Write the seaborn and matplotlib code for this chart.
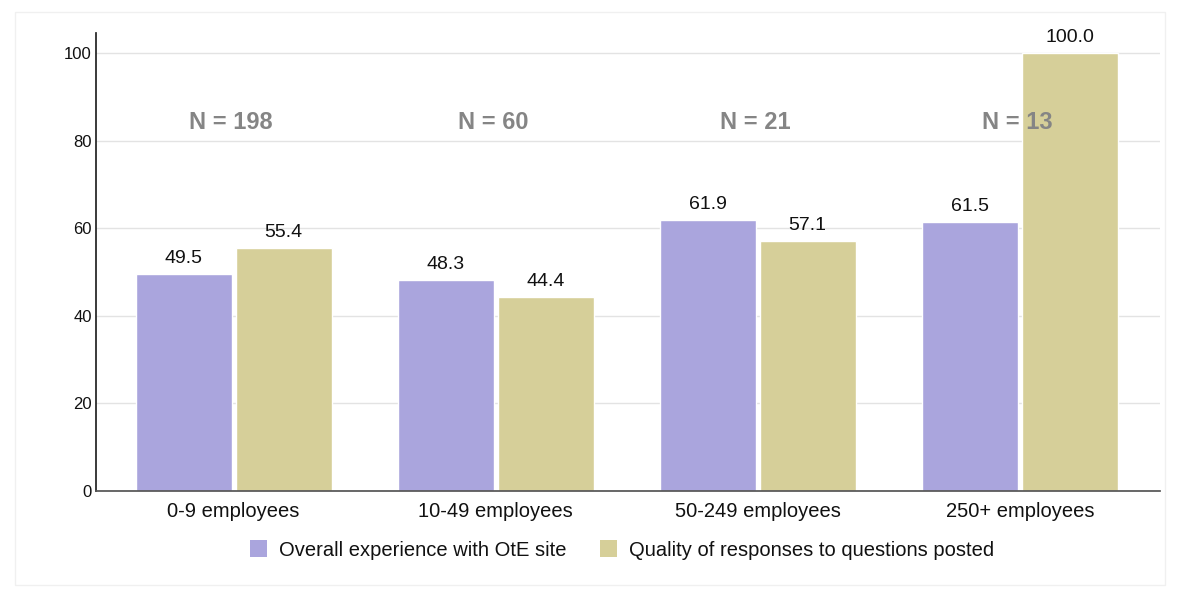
import pandas as pd
import matplotlib.pyplot as plt
import seaborn as sns
from matplotlib.patches import Rectangle, Patch

categories = ["0-9 employees", "10-49 employees", "50-249 employees", "250+ employees"]
series_names = ["Overall experience with OtE site", "Quality of responses to questions posted"]
overall = [49.5, 48.3, 61.9, 61.5]
quality = [55.4, 44.4, 57.1, 100.0]
n_labels = ["N = 198", "N = 60", "N = 21", "N = 13"]
colors = ["#AAA5DD", "#D6CF99"]

df = pd.DataFrame({
    "cat": categories * 2,
    "series": [series_names[0]] * 4 + [series_names[1]] * 4,
    "value": overall + quality,
})

sns.set_theme(style="white")
plt.rcParams["font.family"] = ["Liberation Sans", "DejaVu Sans"]
plt.rcParams["text.color"] = "#111111"
plt.rcParams["xtick.color"] = "#111111"
plt.rcParams["ytick.color"] = "#111111"

fig = plt.figure(figsize=(11.78, 5.94), dpi=100)
ax = fig.add_axes([96 / 1178, 1 - 491 / 594, 1064 / 1178, 458 / 594])

sns.barplot(data=df, x="cat", y="value", hue="series", order=categories,
            hue_order=series_names, palette=colors, width=0.763, gap=0.04,
            saturation=1, ax=ax, legend=False)

for cont in ax.containers:
    ax.bar_label(cont, fmt="%.1f", padding=5, fontsize=14, color="#111111")

for i, lab in enumerate(n_labels):
    ax.text(i - 0.01, 84.2, lab, ha="center", va="center", fontsize=17,
            fontweight="bold", color="#858585")

ax.set_ylim(0, 104.6)
ax.set_xlim(-0.525, 3.535)
ax.set_yticks([0, 20, 40, 60, 80, 100])
ax.yaxis.grid(True, color="#E3E3E3", linewidth=1)
ax.set_axisbelow(True)
ax.set_xlabel("")
ax.set_ylabel("")
ax.tick_params(axis="y", labelsize=12, length=0, pad=3)
ax.tick_params(axis="x", labelsize=14.5, length=0, pad=8)
for s in ["top", "right"]:
    ax.spines[s].set_visible(False)
ax.spines["left"].set_color("#222222")
ax.spines["bottom"].set_color("#555555")

handles = [Patch(facecolor=c, edgecolor="none") for c in colors]
fig.legend(handles, series_names, loc="center", bbox_to_anchor=(622 / 1178, 1 - 550 / 594),
           ncol=2, frameon=False, fontsize=14.5, handlelength=0.85, handleheight=0.85,
           columnspacing=1.65, handletextpad=0.6)

fig.patches.append(Rectangle((15 / 1178, 1 - 585 / 594), 1150 / 1178, 573 / 594,
                             transform=fig.transFigure, fill=False,
                             edgecolor="#F0F0F0", linewidth=1))

fig.savefig("out.png", dpi=100)
